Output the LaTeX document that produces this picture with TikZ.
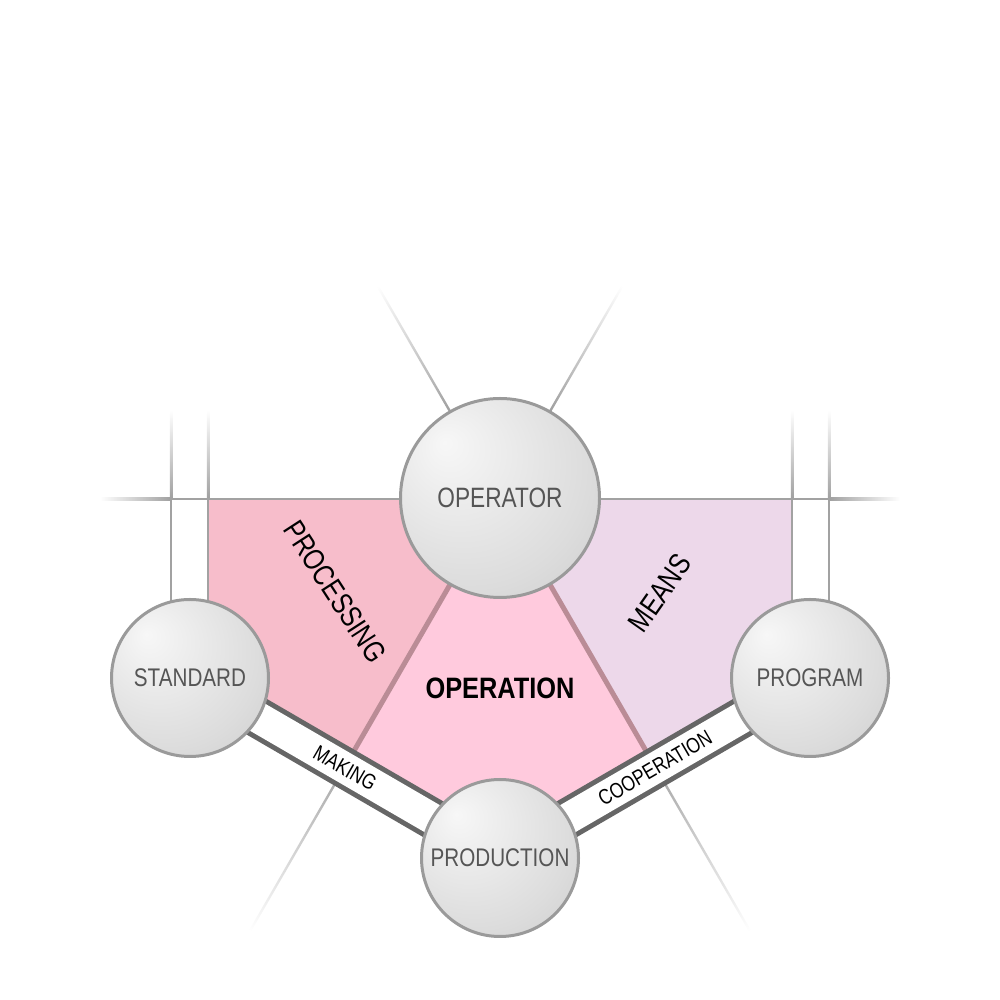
\documentclass[tikz,border=0pt]{standalone}
\usepackage{fontspec}
\setmainfont{Liberation Sans}[FakeStretch=0.81, BoldFeatures={FakeStretch=0.86}]
\usetikzlibrary{backgrounds}

\definecolor{procfill}{HTML}{F7BDCB}
\definecolor{opfill}{HTML}{FFCADD}
\definecolor{meansfill}{HTML}{EDD8EA}
\definecolor{dividerrose}{HTML}{BA8C96}
\definecolor{bandgray}{HTML}{666666}
\definecolor{rimgray}{HTML}{A2A2A2}
\definecolor{fadegray}{HTML}{A0A0A0}
\definecolor{ballrim}{HTML}{9A9A9A}
\definecolor{ballink}{HTML}{555555}
\definecolor{ballhi}{HTML}{F7F7F7}
\definecolor{ballmid}{HTML}{DCDCDC}
\definecolor{balllo}{HTML}{B6B6B6}

\pgfdeclareradialshading{sphere}{\pgfpoint{-14bp}{14bp}}{color(0bp)=(ballhi); color(30bp)=(ballmid); color(64bp)=(balllo)}

\begin{document}
\begin{tikzpicture}[x=1pt, y=1pt,
    ball/.style={circle, draw=ballrim, line width=3pt, shade, shading=sphere, text=ballink, inner sep=0pt},
    band/.style={line width=5pt, draw=bandgray, double=white, double distance=31pt},
    bandtext/.style={sloped, inner sep=0pt, font=\fontsize{21.5}{23}\selectfont},
    rim/.style={line width=2.5pt, draw=rimgray},
    divider/.style={line width=5pt, draw=dividerrose},
    regiontext/.style={inner sep=0pt, font=\fontsize{30}{32}\selectfont}]
    \useasboundingbox (0,0) rectangle (1000,1000);

    \node[ball, minimum size=199pt, font=\fontsize{28}{30}\selectfont] (operator) at (500,502) {OPERATOR};
    \node[ball, minimum size=157pt, font=\fontsize{25.5}{28}\selectfont] (standard) at (190,322) {STANDARD};
    \node[ball, minimum size=157pt, font=\fontsize{25.5}{28}\selectfont] (program) at (810,322) {PROGRAM};
    \node[ball, minimum size=157pt, font=\fontsize{25.5}{28}\selectfont] (production) at (500,142) {PRODUCTION};

    \node[regiontext, rotate=-57] (processing) at (335,408) {PROCESSING};
    \node[regiontext, rotate=55] (means) at (660,407) {MEANS};
    \node[inner sep=0pt, font=\bfseries\fontsize{29.5}{32}\selectfont] (operation) at (500,312) {OPERATION};

    \begin{scope}[on background layer]
        % fading guide lines
        \foreach \a/\ra/\rb in {60/100/245, 120/100/245, 240/300/500, 300/300/500} {
            \begin{scope}[transform canvas={shift={(500,502)}, rotate=\a}]
                \shade[left color=fadegray, right color=white] (\ra,-1.2) rectangle (\rb,1.2);
            \end{scope}
        }
        \shade[left color=white, right color=fadegray] (100,499.75) rectangle (171,502.25);
        \shade[left color=fadegray, right color=white] (829,499.75) rectangle (900,502.25);
        \foreach \x in {171,208,792,829}
            \shade[bottom color=fadegray, top color=white] (\x-1.25,501) rectangle (\x+1.25,590);

        % regions
        \fill[opfill] (208,501) -- (792,501) -- (792,332.4) -- (500,162.8) -- (208,332.4) -- cycle;
        \begin{scope}
            \clip (208,501) -- (792,501) -- (792,332.4) -- (500,162.8) -- (208,332.4) -- cycle;
            \fill[procfill] (500,700) -- (operator.center) -- ++(240:600) -- (0,-200) -- (0,700) -- cycle;
            \fill[meansfill] (500,700) -- (operator.center) -- ++(300:600) -- (1000,-200) -- (1000,700) -- cycle;
        \end{scope}
        \draw[rim] (208,332.4) -- (208,501) -- (792,501) -- (792,332.4);
        \draw[rim, fill=white] (171,330) rectangle (208,501);
        \draw[rim, fill=white] (792,330) rectangle (829,501);

        \draw[divider] (operator.center) -- ++(240:310);
        \draw[divider] (operator.center) -- ++(300:310);

        % bands
        \draw[band] (standard.center) -- node[bandtext] {MAKING} (production.center);
        \draw[band] (production.center) -- node[bandtext] {COOPERATION} (program.center);
    \end{scope}
\end{tikzpicture}
\end{document}
